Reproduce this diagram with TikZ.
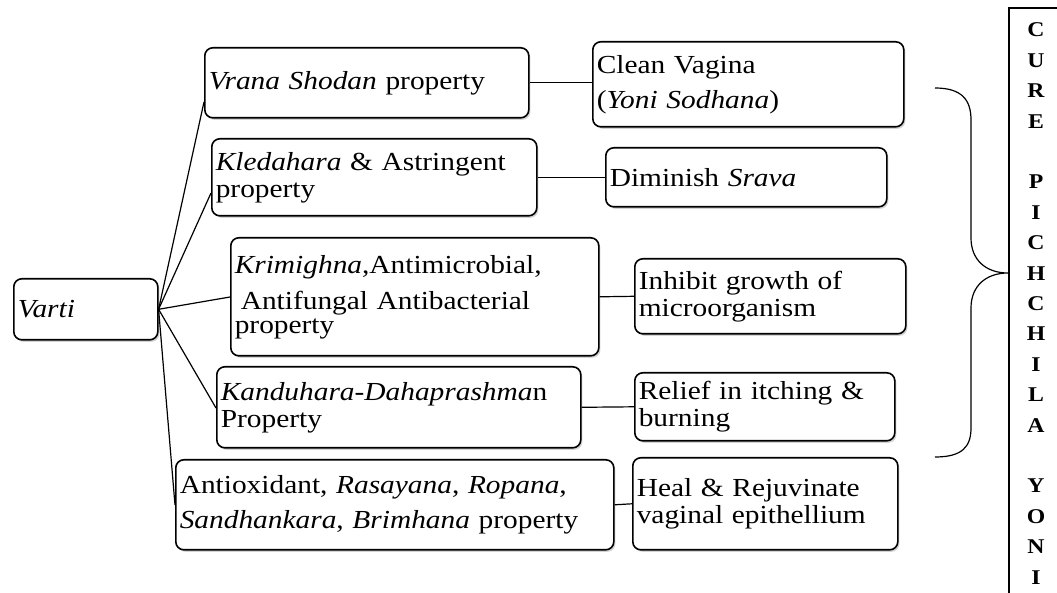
\documentclass[tikz,border=0pt]{standalone}
\usepackage{fontspec}
\setmainfont{Liberation Serif}[FakeStretch=1.13]
\usetikzlibrary{shadows}

\begin{document}
\begin{tikzpicture}[x=0.5pt, y=-0.5pt,
    every node/.style={font=\fontsize{13}{13.5}\selectfont},
    box/.style={draw, line width=0.8pt, rounded corners=4pt, anchor=north west,
      align=left, inner xsep=2pt, inner ysep=0pt, fill=white,
      drop shadow={shadow xshift=0.8pt, shadow yshift=-1pt, opacity=0.35}},
    link/.style={line width=0.6pt},
    letter/.style={anchor=base, font=\fontsize{10.5}{12}\selectfont\bfseries}]
    \clip (0,0) rectangle (1057,593);

    % --- origem ---
    \node[box, text width=68pt, minimum height=30.5pt] (varti) at (13,278) {\textit{Varti}};

    % --- propriedades ---
    \node[box, text width=158pt, minimum height=35pt] (shodan) at (204,47)
      {\textit{Vrana Shodan} property};
    \node[box, text width=158.5pt, minimum height=38.5pt] (kleda) at (211,138)
      {\textit{Kledahara} \& Astringent\\property};
    \node[box, text width=180pt, minimum height=59pt] (krimi) at (230,237)
      {\textit{Krimighna},Antimicrobial,\\[4.5pt]\hspace*{3pt}Antifungal Antibacterial\\[-1.5pt]property};
    \node[box, text width=178pt, minimum height=40.5pt] (kandu) at (216,366)
      {\textit{Kanduhara-Dahaprashma}n\\Property};
    \node[box, text width=215pt, minimum height=45pt] (rasa) at (175,459)
      {Antioxidant, \textit{Rasayana}, \textit{Ropana},\\[4pt]\textit{Sandhankara}, \textit{Brimhana} property};

    % --- efeitos ---
    \node[box, text width=151.5pt, minimum height=42.5pt] (clean) at (592,41)
      {Clean Vagina\\[4pt](\textit{Yoni Sodhana})};
    \node[box, text width=136.5pt, minimum height=29.5pt] (srava) at (605,147)
      {Diminish \textit{Srava}};
    \node[box, text width=131.5pt, minimum height=37.5pt] (inhibit) at (634,258)
      {Inhibit growth of\\microorganism};
    \node[box, text width=126pt, minimum height=34pt] (relief) at (634,372)
      {Relief in itching \&\\burning};
    \node[box, text width=128.5pt, minimum height=46pt] (heal) at (632,457)
      {Heal \& Rejuvinate\\vaginal epithellium};

    % ramos a partir de Varti
    \draw[link] (varti.east) -- (shodan.west |- 0,102);
    \draw[link] (varti.east) -- (kleda.west |- 0,193);
    \draw[link] (varti.east) -- (krimi.west |- 0,297);
    \draw[link] (varti.east) -- (kandu.west |- 0,408);
    \draw[link] (varti.east) -- (rasa.west |- 0,505);

    % propriedade -> efeito
    \draw[link] (shodan.east) -- (shodan.east -| clean.west);
    \draw[link] (kleda.east) -- (srava.west);
    \draw[link] (krimi.east) -- (inhibit.west);
    \draw[link] (kandu.east) -- (relief.west);
    \draw[link] (rasa.east) -- (heal.west);

    % --- coluna vertical (cortada na margem) ---
    \node[draw, line width=0.8pt, anchor=north west, minimum width=40pt,
      minimum height=320pt, inner sep=0pt] (cure) at (1008,7) {};
    \foreach \c [count=\i from 0] in {C,U,R,E,{},P,I,C,H,C,H,I,L,A,{},Y,O,N,I}
      \node[letter] (l\i) at (1036,{37+30.4*\i}) {\c};

    % chave
    \coordinate (tip) at (cure.west |- 0,273);
    \draw[link] (935,88) .. controls (962,88) and (971,100) .. (971,120) -- (971,238)
      .. controls (971,260) and (986,273) .. (tip)
      .. controls (986,273) and (971,286) .. (971,308) -- (971,428)
      .. controls (971,447) and (962,457) .. (935,457);
  \end{tikzpicture}
\end{document}
